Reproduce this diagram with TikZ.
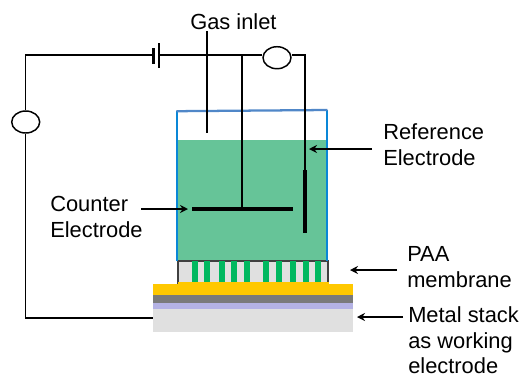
\documentclass[tikz,border=0pt]{standalone}
\usepackage{fontspec}
\setmainfont{Liberation Sans}
\usetikzlibrary{shapes.geometric,arrows.meta}
\definecolor{beaker}{RGB}{10,135,215}
\definecolor{beakertop}{RGB}{80,135,200}
\definecolor{liquid}{RGB}{102,196,152}
\definecolor{pillar}{RGB}{0,184,96}
\definecolor{gold}{RGB}{255,200,0}
\definecolor{stackgray}{RGB}{122,122,122}
\definecolor{lav}{RGB}{180,178,228}
\definecolor{pale}{RGB}{224,224,224}
\tikzset{
  x=0.75pt,y=-0.75pt,
  wire/.style={draw=black,line width=1pt},
  meter/.style={ellipse,draw=black,line width=1.1pt,fill=white,minimum width=21pt,minimum height=16.5pt,inner sep=0pt},
  plate/.style={draw=black,line width=1.9pt},
  electrode/.style={draw=black,line width=2.5pt},
  pointer/.style={draw=black,line width=1.2pt,-{Stealth[length=6pt,width=6pt]}},
  lbl/.style={font=\fontsize{16.4pt}{19.7pt}\selectfont,align=left,anchor=west,inner sep=0pt,text=black},
  lbltight/.style={font=\fontsize{16.4pt}{19.2pt}\selectfont,align=left,anchor=west,inner sep=0pt,text=black},
  beakerwall/.style={draw=beaker,line width=1.7pt},
}
\begin{document}
\begin{tikzpicture}
\useasboundingbox (0,0) rectangle (522,376);
% liquid and membrane
\fill[liquid] (177,140) rectangle (327,261);
\fill[pale] (178,261) rectangle (328,284);
\draw[draw=black!75,line width=0.9pt] (178,284) -- (178,261) -- (328,261) -- (328,284);
\foreach \p in {192,204,219,231,244,263,276,290,303,315}
  \fill[pillar] (\p,261) rectangle (\p+6,284);
% metal stack
\fill[gold] (178,282) rectangle (329,285);
\fill[gold] (153,284) rectangle (353,295);
\fill[stackgray] (153,295) rectangle (353,303);
\fill[lav] (153,303) rectangle (353,309);
\fill[pale] (153,309) rectangle (353,332);
\coordinate (stackwest) at (153,318);
% beaker
\draw[beakerwall] (177,261) -- (177,111);
\draw[beakerwall] (327,261) -- (327,110);
\draw[draw=beakertop,line width=1.7pt] (176.5,111.2) -- (327.5,110);
% circuit
\node[meter] (vmeter) at (25.7,122) {};
\node[meter] (ameter) at (277,57.7) {};
\coordinate (corner) at (25.7,55);
\coordinate (platea) at (153.3,55);
\coordinate (plateb) at (159,55);
\coordinate (junction) at (242,55);
\coordinate (meterright) at (305,55);
\coordinate (cetop) at (242,209);
\coordinate (cewest) at (192,209);
\coordinate (ceeast) at (293,209);
\coordinate (retop) at (305,170);
\coordinate (rebottom) at (305,233);
\coordinate (inlettop) at (207,31);
\coordinate (inletend) at (207,133);
\draw[wire] (vmeter.north) -- (corner) -- (platea);
\draw[wire] (vmeter.south) -- (25.7,318) -- (stackwest);
\draw[wire] (plateb) -- (junction) -- (ameter.west |- junction);
\draw[wire] (ameter.east |- meterright) -- (meterright) -- (retop);
\draw[wire] (junction) -- (cetop);
\draw[wire] (inlettop) -- (inletend);
\draw[plate] (153.3,48) -- (153.3,64);
\draw[plate] (159,43) -- (159,68);
\draw[electrode] (cewest) -- (ceeast);
\draw[electrode] (retop) -- (rebottom);
% labels
\node[lbl,anchor=base west] (gas) at (190,29) {Gas inlet};
\node[lbl] (ref) at (383,145) {Reference\\Electrode};
\node[lbl] (cnt) at (50,217) {Counter\\Electrode};
\node[lbl] (paa) at (407,267) {PAA\\membrane};
\node[lbltight] (metal) at (408,340.5) {Metal stack\\as working\\electrode};
% pointers
\coordinate (refp) at (309,149);
\coordinate (cntp) at (188,209);
\coordinate (paap) at (350,270);
\coordinate (metalp) at (357,317);
\draw[pointer] (372,149) -- (refp);
\draw[pointer] (141,209) -- (cntp);
\draw[pointer] (397,270) -- (paap);
\draw[pointer] (403,317) -- (metalp);
\end{tikzpicture}
\end{document}
